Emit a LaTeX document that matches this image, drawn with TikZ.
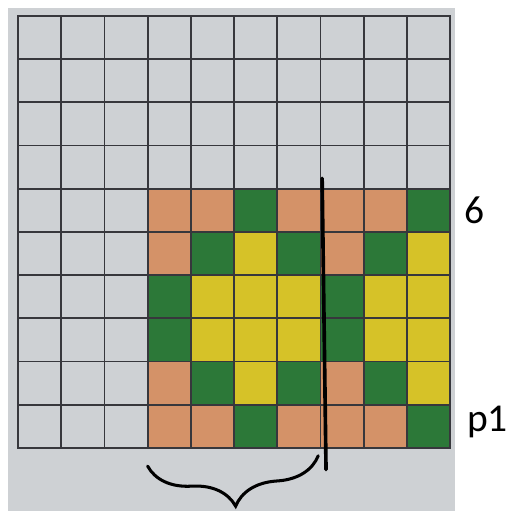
\documentclass[tikz,border=0pt]{standalone}
\usepackage{fontspec}
\setmainfont{Carlito}
\usetikzlibrary{decorations.pathreplacing,calc}
\definecolor{paper}{RGB}{206,209,212}
\definecolor{cello}{RGB}{212,146,104}
\definecolor{cellg}{RGB}{44,120,56}
\definecolor{celly}{RGB}{214,194,40}
\definecolor{gridln}{RGB}{55,55,60}

\begin{document}
\begin{tikzpicture}[lbl/.style={font=\fontsize{26}{30}\selectfont, inner sep=0pt}]
    \useasboundingbox (-0.417,-1.458) rectangle (11.412,10.370);
    \fill[white] (-0.417,-1.458) rectangle (11.412,10.370);
    \fill[paper] (-0.23,-1.46) rectangle (10.12,10.19);

    % coloured part of the grid, rows counted from the bottom
    \foreach \y/\cells in {0/{o,o,g,o,o,o,g}, 1/{o,g,y,g,o,g,y}, 2/{g,y,y,y,g,y,y},
                           3/{g,y,y,y,g,y,y}, 4/{o,g,y,g,o,g,y}, 5/{o,o,g,o,o,o,g}} {
        \foreach \k [count=\i from 3] in \cells {
            \fill[cell\k] (\i,\y) rectangle ++(1,1);
        }
    }

    \draw[gridln, line width=1.2pt] (0,0) grid (10,10);
    \draw[gridln, line width=1.8pt] (0,0) rectangle (10,10);

    % cut line and brace
    \coordinate (top) at (7.04,6.24);
    \coordinate (bot) at (7.13,-0.5);
    \draw[line width=2.4pt, line cap=round] (top) -- (bot);
    \coordinate (bl) at (3.0,-0.42);
    \coordinate (br) at (6.95,-0.18);
    \draw[line width=2pt, line cap=round, decorate, decoration={brace, mirror, amplitude=1.05cm}] (bl) -- (br);

    \node[lbl] (six) at (10.56,5.51) {6};
    \node[lbl, anchor=base west] (p1) at (10.39,0.37) {p1};
\end{tikzpicture}
\end{document}
